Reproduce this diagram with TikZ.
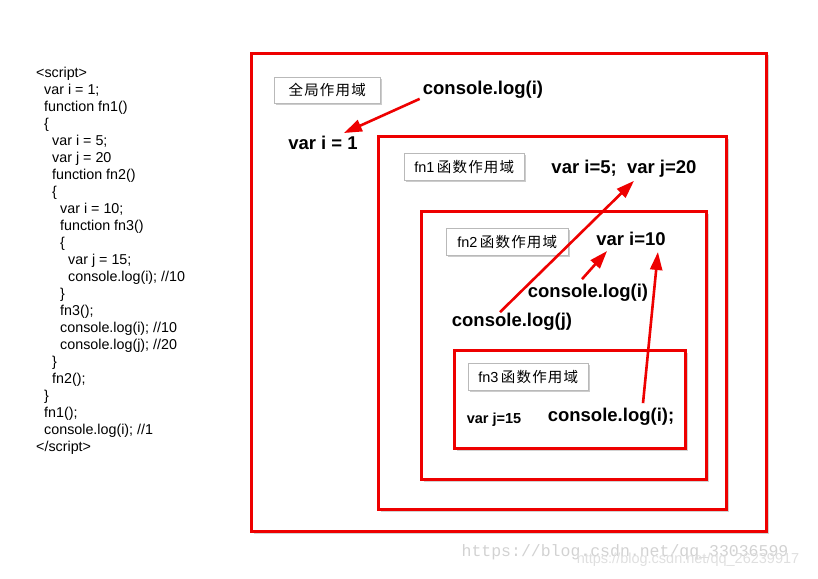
\documentclass[tikz,border=0pt]{standalone}
\usepackage{fontspec}
\setmainfont{Liberation Sans}
\setmonofont{Liberation Mono}
\newfontfamily\cjk[LetterSpace=8]{Noto Sans CJK SC}
\usepackage{xcolor}
\usepackage{tikz}
\usetikzlibrary{arrows.meta, positioning, shadows}
\definecolor{boxred}{RGB}{238,0,0}
\tikzstyle{scopebox} = [rectangle, anchor=north west, draw=boxred, fill=white, line width=3pt, inner sep=0pt, drop shadow={opacity=0.35, shadow xshift=2pt, shadow yshift=-2pt}]
\tikzstyle{tag} = [rectangle, anchor=north west, draw=gray!55, line width=0.5pt, fill=white, inner sep=0pt, font=\fontsize{14.5}{16}\selectfont, drop shadow={opacity=0.4, shadow xshift=2pt, shadow yshift=-2pt}]
\tikzstyle{vartext} = [font=\bfseries\fontsize{18.5}{20}\selectfont, inner sep=0pt]
\tikzstyle{arrow} = [draw=boxred, line width=2.6pt, -{Triangle[length=18pt,width=12pt]}]
\newcommand{\codeind}[1]{\hspace*{#1pt}}

\begin{document}
\begin{tikzpicture}[x=1pt, y=-1pt]
  \useasboundingbox (0,0) rectangle (818,578);
  % source code
  \node[anchor=north west, inner sep=0pt, align=left, font=\fontsize{14.3}{17}\selectfont] (code) at (36,67) {%
    <script>\\
    \codeind{8}var i = 1;\\
    \codeind{8}function fn1()\\
    \codeind{8}\{\\
    \codeind{16}var i = 5;\\
    \codeind{16}var j = 20\\
    \codeind{16}function fn2()\\
    \codeind{16}\{\\
    \codeind{24}var i = 10;\\
    \codeind{24}function fn3()\\
    \codeind{24}\{\\
    \codeind{32}var j = 15;\\
    \codeind{32}console.log(i); //10\\
    \codeind{24}\}\\
    \codeind{24}fn3();\\
    \codeind{24}console.log(i); //10\\
    \codeind{24}console.log(j); //20\\
    \codeind{16}\}\\
    \codeind{16}fn2();\\
    \codeind{8}\}\\
    \codeind{8}fn1();\\
    \codeind{8}console.log(i); //1\\
    </script>};

  % nested scopes
  \node[scopebox, minimum width=515pt, minimum height=478pt] (global) at (250,52) {};
  \node[scopebox, minimum width=348pt, minimum height=373pt] (fnone) at (377,135) {};
  \node[scopebox, minimum width=285pt, minimum height=268pt] (fntwo) at (420,210) {};
  \node[scopebox, minimum width=231pt, minimum height=98pt] (fnthree) at (453,349) {};

  \node[tag, minimum width=106pt, minimum height=26pt] (globaltag) at (274,77) {\cjk 全局作用域};
  \node[tag, minimum width=120pt, minimum height=27pt] (fnonetag) at (404,153) {fn1\,{\cjk 函数作用域}};
  \node[tag, minimum width=122pt, minimum height=27pt] (fntwotag) at (446,228) {fn2\,{\cjk 函数作用域}};
  \node[tag, minimum width=120pt, minimum height=27pt] (fnthreetag) at (468,363) {fn3\,{\cjk 函数作用域}};

  % variables and logs
  \node[vartext] (glog) at (483,90) {console.log(i)};
  \node[vartext] (vione) at (323,143) {var i = 1};
  \node[vartext] (vifive) at (624,169) {var i=5;\ \ var j=20};
  \node[vartext] (viten) at (631,239) {var i=10};
  \node[vartext] (ilog) at (588,293) {console.log(i)};
  \node[vartext] (jlog) at (512,322) {console.log(j)};
  \node[vartext, font=\bfseries\fontsize{14.5}{16}\selectfont] (vjfifteen) at (494,420) {var j=15};
  \node[vartext] (ilogthree) at (611,417) {console.log(i);};

  \draw[arrow] ([xshift=-3pt]glog.south west) -- ([xshift=-14pt,yshift=3pt]vione.north east);
  \draw[arrow] ([xshift=-12pt,yshift=1pt]jlog.north) -- ([xshift=10pt,yshift=-3pt]vifive.south);
  \draw[arrow] ([xshift=-6pt,yshift=5pt]ilog.north) -- ([xshift=11pt,yshift=-5pt]viten.south west);
  \draw[arrow] ([xshift=32pt,yshift=5pt]ilogthree.north) -- ([xshift=-8pt,yshift=-6pt]viten.south east);

  % watermarks
  \node[font=\ttfamily\fontsize{16.5}{18}\selectfont, text=gray!35, inner sep=0pt] (markone) at (625,552) {https://blog.csdn.net/qq\_33036599};
  \node[font=\fontsize{14.5}{16}\selectfont, text=gray!25, inner sep=0pt] (marktwo) at (688,560) {https://blog.csdn.net/qq\_26239917};
\end{tikzpicture}
\end{document}
